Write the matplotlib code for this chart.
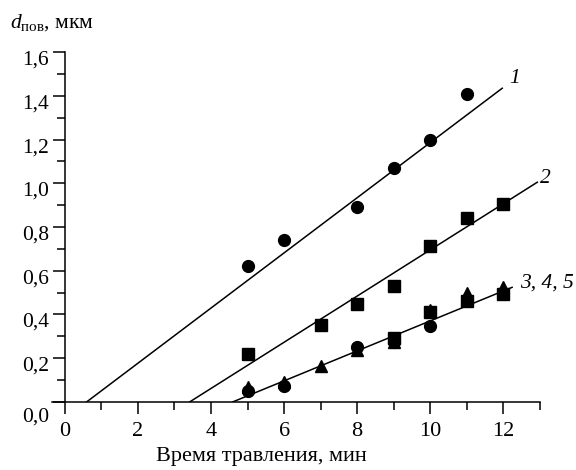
import numpy as np
import matplotlib.pyplot as plt
import matplotlib.transforms as mtransforms
from matplotlib.ticker import MultipleLocator, FuncFormatter

plt.rcParams['font.family'] = 'Liberation Serif'
plt.rcParams['mathtext.fontset'] = 'custom'
plt.rcParams['mathtext.rm'] = 'Liberation Serif'
plt.rcParams['mathtext.it'] = 'Liberation Serif:italic'

# curve 1 (circles)
t1 = [5, 6, 8, 9, 10, 11]
d1 = [0.62, 0.74, 0.89, 1.07, 1.20, 1.41]
# curve 2 (squares)
t2 = [5, 7, 8, 9, 10, 11, 12]
d2 = [0.22, 0.35, 0.45, 0.53, 0.715, 0.84, 0.905]
# curves 3, 4, 5
t3 = [5, 6, 8, 9, 10]
d3 = [0.05, 0.073, 0.25, 0.272, 0.348]
t4 = [9, 10, 11, 12]
d4 = [0.29, 0.41, 0.463, 0.494]
t5 = [5, 6, 7, 8, 9, 10, 11, 12]
d5 = [0.07, 0.09, 0.165, 0.235, 0.272, 0.42, 0.497, 0.525]

# approximating lines (start, end)
line1_t = [0.6, 11.97]
line1_d = [0.0, 1.435]
line2_t = [3.42, 12.93]
line2_d = [0.0, 1.005]
line3_t = [4.6, 12.24]
line3_d = [0.0, 0.524]

fig = plt.figure(figsize=(5.76, 4.70), dpi=100)
ax = fig.add_axes([0.0903, 0.145, 0.847, 0.744])

ax.plot(line1_t, line1_d, color='black', lw=1.1)
ax.plot(line2_t, line2_d, color='black', lw=1.1)
ax.plot(line3_t, line3_d, color='black', lw=1.1)

ms = 8.5
ax.plot(t1, d1, 'o', color='black', ms=ms, clip_on=False)
ax.plot(t2, d2, 's', color='black', ms=ms - 0.5, clip_on=False)
ax.plot(t5, d5, '^', color='black', ms=ms, clip_on=False)
ax.plot(t3, d3, 'o', color='black', ms=ms, clip_on=False)
ax.plot(t4, d4, 's', color='black', ms=ms - 0.5, clip_on=False)

fs = 15.5
ax.text(12.15, 1.48, '1', fontsize=fs, style='italic', va='center')
ax.text(13.0, 1.02, '2', fontsize=fs, style='italic', va='center')
ax.text(12.45, 0.545, '3, 4, 5', fontsize=fs, style='italic', va='center')

ax.set_xlim(-0.35, 13)
ax.set_ylim(0, 1.6)
ax.spines['top'].set_visible(False)
ax.spines['right'].set_visible(False)
ax.spines['left'].set_position(('data', 0))
ax.spines['left'].set_linewidth(1.1)
ax.spines['bottom'].set_linewidth(1.1)

ax.xaxis.set_major_locator(MultipleLocator(2))
ax.xaxis.set_minor_locator(MultipleLocator(1))
ax.yaxis.set_major_locator(MultipleLocator(0.2))
ax.yaxis.set_minor_locator(MultipleLocator(0.1))
ax.yaxis.set_major_formatter(FuncFormatter(lambda v, p: f'{v:.1f}'.replace('.', ',')))
ax.tick_params(which='major', direction='out', length=8.5, width=1.1, labelsize=fs)
ax.tick_params(which='minor', direction='out', length=5.5, width=1.1)
ax.tick_params(axis='x', which='major', pad=6, labelsize=16)
ax.tick_params(axis='y', which='major', pad=3)

# y labels sit slightly below their ticks in the original, "0,0" even lower
shift = mtransforms.ScaledTranslation(0, -4 / 72, fig.dpi_scale_trans)
shift0 = mtransforms.ScaledTranslation(0, -9 / 72, fig.dpi_scale_trans)
for v, lab in zip(ax.get_yticks(), ax.get_yticklabels()):
    lab.set_transform(lab.get_transform() + (shift0 if abs(v) < 1e-9 else shift))

ax.set_xlabel('Время травления, мин', fontsize=16)
ax.xaxis.set_label_coords(0.43, -0.13)

fig.text(0.018, 0.952, r'$d_{\mathrm{пов}}$, мкм', fontsize=fs, va='center')

fig.savefig('out.png', dpi=100)
